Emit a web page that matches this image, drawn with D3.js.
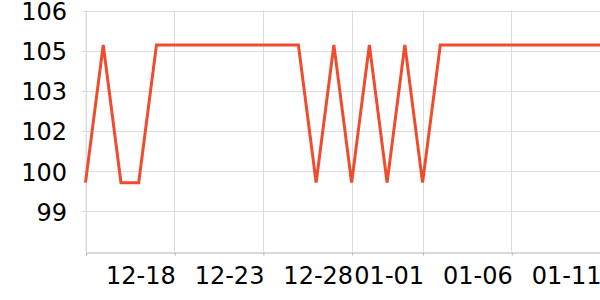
<!DOCTYPE html>
<html>
<head>
<meta charset="utf-8">
<script src="https://cdn.jsdelivr.net/npm/d3@7"></script>
<style>
  body { margin: 0; background: #fff; }
  text { font-family: "DejaVu Sans", sans-serif; }
</style>
</head>
<body>
<div id="chart"></div>
<script>
// data
const dates = [
  "2023-12-13","2023-12-14","2023-12-15","2023-12-16","2023-12-17","2023-12-18",
  "2023-12-19","2023-12-20","2023-12-21","2023-12-22","2023-12-23","2023-12-24",
  "2023-12-25","2023-12-26","2023-12-27","2023-12-28","2023-12-29","2023-12-30",
  "2023-12-31","2024-01-01","2024-01-02","2024-01-03","2024-01-04","2024-01-05",
  "2024-01-06","2024-01-07","2024-01-08","2024-01-09","2024-01-10","2024-01-11"
];
const values = [
  100.0, 104.8, 100.0, 100.0, 104.8, 104.8,
  104.8, 104.8, 104.8, 104.8, 104.8, 104.8,
  104.8, 100.0, 104.8, 100.0, 104.8, 100.0,
  104.8, 100.0, 104.8, 104.8, 104.8, 104.8,
  104.8, 104.8, 104.8, 104.8, 104.8, 104.8
];
const yTicks = [97.6, 99, 100.4, 101.8, 103.2, 104.6, 106];
const yTickLabels = ["", "99", "100", "102", "103", "105", "106"];
const xTicks = ["2023-12-13","2023-12-18","2023-12-23","2023-12-28","2024-01-01","2024-01-06","2024-01-11"];
const xTickLabels = ["", "12-18", "12-23", "12-28", "01-01", "01-06", "01-11"];

const width = 600, height = 300;
const margin = { top: 10.5, right: 0, bottom: 48.5, left: 85.5 };

const parse = d3.timeParse("%Y-%m-%d");
const data = dates.map((d, i) => ({ date: parse(d), value: values[i] }));

const svg = d3.select("#chart").append("svg")
  .attr("width", width)
  .attr("height", height);

const x = d3.scaleTime()
  .domain([parse(dates[0]), parse(dates[dates.length - 1])])
  .range([margin.left, width - margin.right]);

const y = d3.scaleLinear()
  .domain([yTicks[0], yTicks[yTicks.length - 1]])
  .range([height - margin.bottom, margin.top]);

// horizontal grid
svg.append("g")
  .selectAll("line")
  .data(yTicks.slice(1))
  .enter().append("line")
    .attr("x1", margin.left - 3)
    .attr("x2", width - margin.right)
    .attr("y1", d => Math.round(y(d)) + 0.5)
    .attr("y2", d => Math.round(y(d)) + 0.5)
    .style("stroke", "#dcdcdc");

// vertical grid
svg.append("g")
  .selectAll("line")
  .data(xTicks)
  .enter().append("line")
    .attr("x1", d => Math.round(x(parse(d))) + 0.5)
    .attr("x2", d => Math.round(x(parse(d))) + 0.5)
    .attr("y1", margin.top)
    .attr("y2", height - margin.bottom)
    .style("stroke", "#dcdcdc");

// x axis line + ticks
const xAxis = d3.axisBottom(x)
  .tickValues(xTicks.map(parse))
  .tickSize(3)
  .tickSizeOuter(0)
  .tickFormat((d, i) => xTickLabels[i]);

const gx = svg.append("g")
  .attr("transform", `translate(0,${Math.round(y(yTicks[0])) + 0.5})`)
  .call(xAxis);
gx.select(".domain").style("stroke", "#b4b4b4");
gx.selectAll(".tick line").style("stroke", "#b4b4b4")
  .attr("transform", "translate(0.5,0)");
gx.selectAll(".tick text")
  .style("font-family", "DejaVu Sans, sans-serif")
  .style("font-size", "24px")
  .style("fill", "#000")
  .style("text-anchor", "end")
  .attr("dy", "0")
  .attr("x", 1)
  .attr("y", 31.5);

// y axis labels
const yAxis = d3.axisLeft(y)
  .tickValues(yTicks)
  .tickSize(0)
  .tickPadding(18.5)
  .tickFormat((d, i) => yTickLabels[i]);

const gy = svg.append("g")
  .attr("transform", `translate(${margin.left},0)`)
  .call(yAxis);
gy.select(".domain").style("stroke", "#dcdcdc");
gy.selectAll(".tick text")
  .style("font-family", "DejaVu Sans, sans-serif")
  .style("font-size", "24px")
  .style("fill", "#000")
  .attr("dy", "0.37em");

// line
const line = d3.line()
  .x(d => x(d.date))
  .y(d => y(d.value));

svg.append("path")
  .datum(data)
  .attr("d", line)
  .style("fill", "none")
  .style("stroke", "#f04b2c")
  .style("stroke-width", 3)
  .style("stroke-linejoin", "miter");
</script>
</body>
</html>
